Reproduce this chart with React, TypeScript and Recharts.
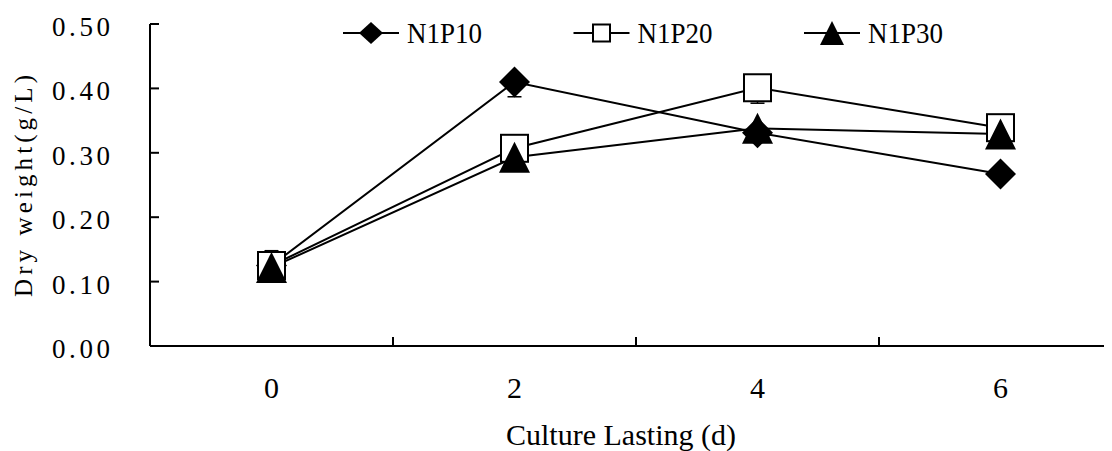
import { LineChart, Line, XAxis, YAxis, ErrorBar, Legend, Label } from "recharts";

const days = [0, 2, 4, 6];
const n1p10 = [0.125, 0.41, 0.331, 0.267];
const n1p20 = [0.125, 0.307, 0.401, 0.339];
const n1p30 = [0.122, 0.293, 0.338, 0.329];
// only the visible parts of the error bars: [minus, plus]
const n1p10Err = [[0, 0], [0.023, 0], [0, 0], [0, 0]];
const n1p20Err = [[0, 0], [0, 0], [0.024, 0], [0, 0]];
const n1p30Err = [[0, 0.026], [0, 0], [0, 0], [0, 0]];
const yTicks = [0, 0.1, 0.2, 0.3, 0.4, 0.5];
const dayTicks = [0, 2, 4, 6];
const dividerTicks = [1, 3, 5];
const seriesNames = ["N1P10", "N1P20", "N1P30"];

const data = days.map((d, i) => ({
  day: d,
  n1p10: n1p10[i],
  n1p10Err: n1p10Err[i],
  n1p20: n1p20[i],
  n1p20Err: n1p20Err[i],
  n1p30: n1p30[i],
  n1p30Err: n1p30Err[i],
}));

const xTicks = [...dayTicks, ...dividerTicks].sort((a, b) => a - b);

const SERIF = '"Liberation Serif", "Times New Roman", serif';
const kinds = ["diamond", "square", "triangle"];

function Marker({ kind, cx, cy, small }: any) {
  if (kind === "diamond") {
    const w = small ? 12 : 15.5;
    const h = small ? 11 : 15.5;
    return <path d={`M${cx},${cy - h}L${cx + w},${cy}L${cx},${cy + h}L${cx - w},${cy}Z`} fill="#000" />;
  }
  if (kind === "square") {
    const s = small ? 17 : 27;
    return <rect x={cx - s / 2} y={cy - s / 2} width={s} height={s} fill="#fff" stroke="#000" strokeWidth={2} />;
  }
  const w = small ? 12 : 15.5;
  const h = small ? 12 : 15.5;
  return <path d={`M${cx},${cy - h}L${cx + w},${cy + h}L${cx - w},${cy + h}Z`} fill="#000" />;
}

const dotFor = (kind: string) => (p: any) => <Marker key={`${kind}-${p.index}`} kind={kind} cx={p.cx} cy={p.cy} />;

function LegendRow() {
  return (
    <svg width={1114} height={50}>
      {seriesNames.map((name, i) => {
        const x0 = 335 + i * 230.5;
        return (
          <g key={name}>
            <line x1={x0} x2={x0 + 56} y1={25} y2={25} stroke="#000" strokeWidth={2} />
            <Marker kind={kinds[i]} cx={x0 + 28} cy={25} small />
            <text x={x0 + 64} y={35} fontFamily={SERIF} fontSize={30} textLength={75} lengthAdjust="spacingAndGlyphs">
              {name}
            </text>
          </g>
        );
      })}
    </svg>
  );
}

// label plus an inward tick mark
const YTick = ({ x, y, payload }: any) => (
  <g>
    <line x1={x + 40} x2={x + 49} y1={y} y2={y} stroke="#000" strokeWidth={2} />
    <text x={x} y={y + 3} textAnchor="end" dominantBaseline="central" fontFamily={SERIF} fontSize={27} textLength={58} lengthAdjust="spacing">
      {Number(payload.value).toFixed(2)}
    </text>
  </g>
);

// even days get a label, odd positions get the upward divider mark
const XTick = ({ x, y, payload }: any) =>
  dividerTicks.includes(payload.value) ? (
    <line x1={x} x2={x} y1={y} y2={y - 9} stroke="#000" strokeWidth={2} />
  ) : (
    <text x={x} y={y + 52} textAnchor="middle" fontFamily={SERIF} fontSize={30}>
      {payload.value}
    </text>
  );

const renderXTitle = ({ viewBox }: any) => (
  <text x={viewBox.x + viewBox.width / 2 - 15} y={viewBox.y + 99} textAnchor="middle" fontFamily={SERIF} fontSize={30}>
    Culture Lasting (d)
  </text>
);

const renderYTitle = () => (
  <text
    x={0}
    y={0}
    transform="translate(24,178) rotate(-90)"
    textAnchor="middle"
    fontFamily={SERIF}
    fontSize={25}
    textLength={222}
    lengthAdjust="spacing"
  >
    Dry weight(g/L)
  </text>
);

const axisStroke = { stroke: "#000", strokeWidth: 2 };

export default function App() {
  return (
    <div style={{ width: 1104, height: 443, overflow: "hidden" }}>
      <style>{`html,body{overflow:hidden}`}</style>
      <LineChart width={1114} height={443} data={data} margin={{ top: 16, right: 0, bottom: 0, left: 0 }}>
        <XAxis
          dataKey="day"
          type="number"
          domain={[-1, 7]}
          allowDataOverflow
          ticks={xTicks}
          interval={0}
          axisLine={axisStroke}
          tickLine={false}
          tickSize={0}
          tickMargin={0}
          height={105}
          tick={<XTick />}
        >
          <Label content={renderXTitle} />
        </XAxis>
        <YAxis
          type="number"
          domain={[0, 0.5]}
          ticks={yTicks}
          interval={0}
          width={142}
          tickSize={0}
          tickMargin={40}
          axisLine={axisStroke}
          tickLine={false}
          tick={<YTick />}
        >
          <Label content={renderYTitle} />
        </YAxis>
        <Legend
          layout="horizontal"
          verticalAlign="middle"
          align="center"
          wrapperStyle={{ top: 0, left: 0, width: 1114, height: 50 }}
          content={<LegendRow />}
        />
        <Line dataKey="n1p10" stroke="#000" strokeWidth={2} dot={dotFor("diamond")} activeDot={false} isAnimationActive={false}>
          <ErrorBar dataKey="n1p10Err" width={7} stroke="#000" strokeWidth={1.5} direction="y" />
        </Line>
        <Line dataKey="n1p20" stroke="#000" strokeWidth={2} dot={dotFor("square")} activeDot={false} isAnimationActive={false}>
          <ErrorBar dataKey="n1p20Err" width={7} stroke="#000" strokeWidth={1.5} direction="y" />
        </Line>
        <Line dataKey="n1p30" stroke="#000" strokeWidth={2} dot={dotFor("triangle")} activeDot={false} isAnimationActive={false}>
          <ErrorBar dataKey="n1p30Err" width={7} stroke="#000" strokeWidth={1.5} direction="y" />
        </Line>
      </LineChart>
    </div>
  );
}
